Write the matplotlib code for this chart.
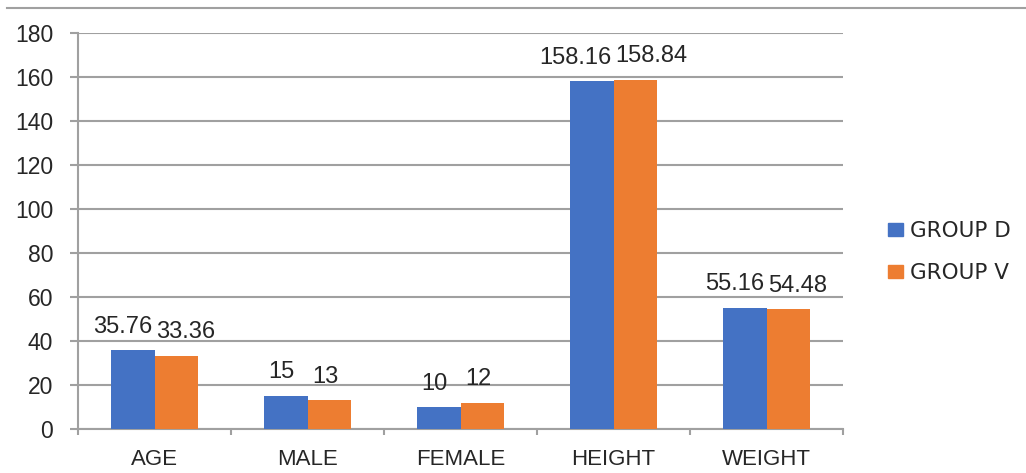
import matplotlib
matplotlib.use("Agg")
import matplotlib.pyplot as plt
import numpy as np
from matplotlib.lines import Line2D
from matplotlib.patches import Patch

categories = ["AGE", "MALE", "FEMALE", "HEIGHT", "WEIGHT"]
group_d = [35.76, 15, 10, 158.16, 55.16]
group_v = [33.36, 13, 12, 158.84, 54.48]
label_d = ["35.76", "15", "10", "158.16", "55.16"]
label_v = ["33.36", "13", "12", "158.84", "54.48"]
series_names = ["GROUP D", "GROUP V"]
yticks = [0, 20, 40, 60, 80, 100, 120, 140, 160, 180]

BLUE = "#4472C4"
ORANGE = "#ED7D31"
GRID = "#A0A0A0"
TXT = "#262626"

W, H = 1026, 473
fig = plt.figure(figsize=(W / 100, H / 100), dpi=100)
ax = fig.add_axes([78 / W, 1 - 429 / H, (843 - 78) / W, (429 - 33) / H])

x = np.arange(len(categories))
bw = 0.285
ax.bar(x - bw / 2, group_d, bw, color=BLUE, label=series_names[0], zorder=3)
ax.bar(x + bw / 2, group_v, bw, color=ORANGE, label=series_names[1], zorder=3)

ax.set_xlim(-0.5, len(categories) - 0.5)
ax.set_ylim(0, 180)
ax.set_yticks(yticks)
ax.yaxis.grid(True, color=GRID, linewidth=1.5, zorder=0)
ax.set_axisbelow(True)
for s in ["top", "right"]:
    ax.spines[s].set_visible(False)
for s in ["left", "bottom"]:
    ax.spines[s].set_color(GRID)
    ax.spines[s].set_linewidth(1.5)

ax.tick_params(axis="y", length=5.8, width=1.5, color=GRID, pad=12,
               labelsize=16.5, labelcolor=TXT)
for t in ax.get_yticklabels():
    t.set_fontfamily("Liberation Sans")

ax.set_xticks(x)
ax.set_xticklabels(categories, fontfamily="Liberation Sans", fontsize=16, color=TXT)
ax.set_xticks(np.arange(-0.5, len(categories), 1.0), minor=True)
ax.tick_params(axis="x", which="major", length=0, pad=14.5)
ax.tick_params(axis="x", which="minor", length=4.5, width=1.5, color=GRID)

# data labels
fig.canvas.draw()
r = fig.canvas.get_renderer()
gap_px = 2
for i in range(len(categories)):
    cd = x[i] - bw / 2
    cv = x[i] + bw / 2
    td = ax.annotate(label_d[i], (cd, group_d[i]), xytext=(-3, 9), textcoords="offset points",
                     ha="center", va="bottom", fontsize=17, color=TXT,
                     fontfamily="Liberation Sans")
    tv = ax.annotate(label_v[i], (cv, group_v[i]), xytext=(-3, 9), textcoords="offset points",
                     ha="center", va="bottom", fontsize=17, color=TXT,
                     fontfamily="Liberation Sans")
    ed = td.get_window_extent(r)
    ev = tv.get_window_extent(r)
    bound = ax.transData.transform((x[i], 0))[0]
    if ed.x1 > bound - gap_px:
        sh = (ed.x1 - (bound - gap_px)) * 72 / 100
        td.xyann = (-3 - sh, 9)
    if ev.x0 < bound + gap_px:
        sh = ((bound + gap_px) - ev.x0) * 72 / 100
        tv.xyann = (-3 + sh, 9)

# legend
fig.legend(handles=[Patch(color=BLUE), Patch(color=ORANGE)], labels=series_names,
           loc="center left", bbox_to_anchor=(888 / W, 1 - 252 / H),
           frameon=False, borderpad=0, borderaxespad=0,
           handlelength=0.7, handleheight=0.55, handletextpad=0.3,
           labelspacing=1.0, prop={"family": "DejaVu Sans", "size": 15.5},
           labelcolor=TXT)

# top rule
fig.add_artist(Line2D([7 / W, 1.0], [1 - 8 / H, 1 - 8 / H], color=GRID, linewidth=1.5))

fig.savefig("out.png", dpi=100)
